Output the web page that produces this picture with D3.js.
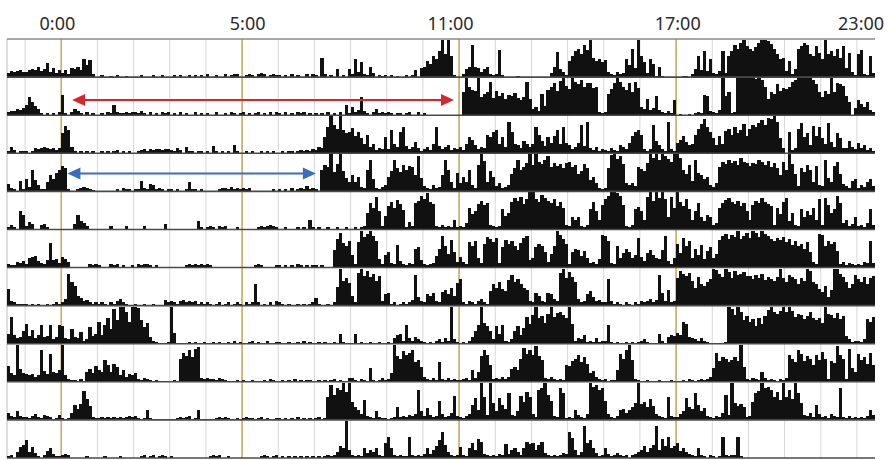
<!DOCTYPE html>
<html>
<head>
<meta charset="utf-8">
<script src="https://cdn.jsdelivr.net/npm/d3@7"></script>
<style>
  html, body { margin: 0; padding: 0; background: #ffffff; }
  svg { display: block; }
</style>
</head>
<body>
<svg id="chart" width="890" height="460"></svg>
<script>
// Actogram: 11 consecutive days, one row per day, 5-minute activity bins.
// Each day is listed hour by hour; every character is one 5-minute bin,
// its activity count written in base 36 (0-9, a-z = 0..35).
// First chunk covers the half hour before the first grid line, last chunk the final half hour.

const tickLabels = ["0:00", "5:00", "11:00", "17:00", "23:00"];
const tickHours = [-0.12, 5.14, 10.75, 17.03, 22.1];
const markerHours = [0, 5, 11, 17];
const gridHours = d3.range(-1, 23);
const chunkStarts = [-1.5].concat(d3.range(-1, 22), [22]);

const day01 = ["465675","5787a68d5947","47398a7hbg30","020010200100","002000200200","020200202020","300200302330","023203430232","202030200303","20i302080208","3h5e32a40212","020100202709","afckhpzmzk20","038aua958a32","3q2000010000","0000004ao852","fkprmuqzifhe","g532534hbr9z","ke4hc1a10000","0011038k7p6h","436p4kpurwzt","rpswzzyvrmhi","6f38rtwumktn","hzmpkrit9n52","mq32k4"];
const day02 = ["344657","ahc962020203","j20364203020","02032a322323","324203020323","020302003020","200300203202","302023020303","203020323020","2020302030a2","835h42036232","320220230030","200000000000","0mzronzhkmvg","nilfjilgehvf","684k9orunwzs","pzvtxruuqr32","3kpuzvroumvq","86f57i53242e","010010232ji4","325zim23zzzz","zzyzxrfmktnq","prvxzzzzzxtm","hnkzmutsic07","eb8c53"];
const day03 = ["263022","202545654535","jqm620202020","020202302020","023424344344","325306220220","207202020820","020200202020","020220232324","365fpzrnzmjk","ogke9h69354f","4m96kp746b52","4639p7468354","639fd8465hfk","m9f6uk985c96","9phc7fagm9pa","846ar7u53624","32532864agkm","h424rc842u42","adgb89hnswpk","e8g9lnhpjmsg","nrptvrxwzue5","0k35ntfj8qgp","e9tb6je55c64","a58352"];
const day04 = ["7320a2","c4kb6229fchk","om2002343210","000000203220","22a327623202","202002922020","000023324232","323000000020","202030232523","20kpnziqzjd9","f9e43kuc3246","ejumipkonfxd","532634fuk93h","8e9k63pzt9je","58346gmuknrz","pzsquxnroqmr","snpgjqmbe832","3myzvxq8685n","ljrzwzuzxvsz","zwkgpauhfce6","48nsqurtpwsr","orqusptnrmfs","kzqg5mipk9o6","5ud9osg753ac","3649c5"];
const day05 = ["2420he","375004520000","00005e863000","000030000300","000300000050","000000000820","232032300020","000002323432","002000202092","020020020020","02023gpkvh3d","mqksoi273prw","tyqo32423292","326kfhornp43","23jdgqurvotz","ztqxurptmqk4","3c9c324jqh9n","twzzywn324jl","h9vzrzuztcvk","zqmtj9hpc8ec","46kpsuqormph","9nrpuqom4kfq","u8g43jchek9t","4ungjwp6935c","3426j4"];
const day06 = ["322546","39ab6437n784","a85000000323","200032302002","032332020000","000002323232","320000000000","000023200002","202020320202","202000hrxnkp","c3oztwzup83c","f43l63243ij7","3234biukdqf5","a53okp94mtro","s4jqmpkhnsu7","9jmkf5dkzvrm","3fihbg94538v","up43k9eif9cs","a6ehc98hu639","meskp9icl8gj","9dquwrvtzrux","szxtzwurpsqt","orlpkmiof53w","vkpmog352432","3254p4"];
const day07 = ["g43222","202020020232","36umj9745323","232032463200","200200200053","432453434232","320230230232","0323k3020304","320200202023","7200203iznql","93vzsxruns4b","c23023235t84","3b9c43dfbh9l","p324324632ek","hmgeotmpkhf4","3c943cb64vzq","wrm634be8453","3p4232032032","434635tc4f34","qxusvnhrkjmp","zyurzwqxtuws","sptquorpnrzq","mtrpkqnzxmkg","dj8fzzurmhkt","pmrkqs"];
const day08 = ["9p856c","j7d58i67i46i","h54e65b34g79","l8ioexmzzulz","zymgk6320002","za0000202002","002020020302","002302003002","200200203020","020200209200","090200200200","205893i53643","202034253z42","02036cizkhc4","h9i324ch8fpj","rzoqkszpturo","zj3548232523","3i2020020202","342000930687","a8lj65435320","00002zxrzumq","lnhojqwzusvz","uzvpsrnquomo","kzsrotnq7423","324nlp"];
const day09 = ["f86zc8","76756ua7q98b","z63220309c8f","b9lg9he6b576","832432020000","020mrounvx43","433243200020","200200020320","020203020220","020202302004","420320d20242","38zomtprujle","53242j324232","2342b49oupg3","43535cebmwqu","pyol4353232g","fkmpjnh8a532","3022bqmuzl32","002000200020","002032023235","drknmjlnkze3","243294232032","4pmjuqkomgpl","sm3kiypm3vd9","qlnhrg"];
const day10 = ["743843","324632543025","2027eafrkd32","232323232343","420292000000","002323402900","000232320020","232202302002","202020302020","2302mxouszqz","hc96j4328322","023c343546s8","4b534i6347n4","3246el9zm5zg","8leap548nhqm","63suzoi43up2","3295326zvxsu","i63249a79cgz","fhckd6432m43","368lcape8b43","2437o5zgdfc3","4hprzuvsmqjz","mskzpg5473e6","342643u32423","232495"];
const day11 = ["2306ac","h6a520379422","343000002000","002000020000","002302302320","200000000000","023230020000","000000232023","020202020202","02023236b9z8","32329586932e","k932322k3232","4948bhpc6323","a329e8if4323","243d489639fd","e8cf53232354","pj836ueh9523","942353230346","8b69cu8ibk9b","e79643293203","202k3233k200","000000000000","000000000000","000000000000","000000"];

const days = [day01, day02, day03, day04, day05, day06, day07, day08, day09, day10, day11];

// Onset arrows (day row, from hour, to hour)
const onsetArrows = [
  { day: 1, from: 0.3, to: 10.86, color: "#d8262c", level: 0.6 },
  { day: 3, from: 0.17, to: 7.04, color: "#3a6cc4", level: 0.53 }
];

const binHours = 1 / 12;

// decode each day into {hour, value} bins
const bins = days.map((chunks, d) =>
  chunks.flatMap((chunk, k) =>
    Array.from(chunk).map((ch, j) => ({
      day: d,
      hour: chunkStarts[k] + j * binHours,
      value: parseInt(ch, 36)
    }))
  ).filter(b => b.value > 0)
);

const svg = d3.select("#chart");

const x = d3.scaleLinear().domain([-1.5, 22.5]).range([7, 875]);
const row = d3.scaleBand().domain(d3.range(days.length)).range([39, 458]);
const rowH = row.bandwidth();
const y = d3.scaleLinear().domain([0, 36]).range([0, rowH]);
const plotTop = row.range()[0], plotBottom = row.range()[1];

// hourly grid
svg.append("g")
  .selectAll("line")
  .data(gridHours)
  .join("line")
  .attr("x1", d => x(d)).attr("x2", d => x(d))
  .attr("y1", plotTop).attr("y2", plotBottom)
  .attr("stroke", "#d6d6d6")
  .attr("stroke-width", 1);

// left frame edge
svg.append("line")
  .attr("x1", x(-1.5)).attr("x2", x(-1.5))
  .attr("y1", plotTop).attr("y2", plotBottom)
  .attr("stroke", "#bdbdbd").attr("stroke-width", 1);

// reference hour markers
svg.append("g")
  .selectAll("line")
  .data(markerHours)
  .join("line")
  .attr("x1", d => x(d)).attr("x2", d => x(d))
  .attr("y1", plotTop).attr("y2", plotBottom)
  .attr("stroke", "#cdae68")
  .attr("stroke-width", 1.6);

// activity bars
svg.append("g")
  .attr("shape-rendering", "crispEdges")
  .selectAll("g")
  .data(bins)
  .join("g")
  .selectAll("rect")
  .data(d => d)
  .join("rect")
  .attr("x", d => x(d.hour))
  .attr("width", d => x(d.hour + binHours) - x(d.hour) + 0.2)
  .attr("y", d => row(d.day) + rowH - y(d.value))
  .attr("height", d => y(d.value))
  .attr("fill", "#111111");

// top border and day baselines
svg.append("line")
  .attr("x1", x(-1.5)).attr("x2", x(22.5))
  .attr("y1", plotTop).attr("y2", plotTop)
  .attr("stroke", "#8a8a8a").attr("stroke-width", 1.4);

svg.append("g")
  .selectAll("line")
  .data(d3.range(days.length))
  .join("line")
  .attr("x1", x(-1.5)).attr("x2", x(22.5))
  .attr("y1", d => row(d) + rowH).attr("y2", d => row(d) + rowH)
  .attr("stroke", "#4a4a4a")
  .attr("stroke-width", 1.6);

// hour labels along the top
const axis = d3.axisTop(x)
  .tickValues(tickHours)
  .tickFormat((d, i) => tickLabels[i])
  .tickSize(0)
  .tickPadding(9);

const gAxis = svg.append("g")
  .attr("transform", `translate(0,${plotTop})`)
  .call(axis);
gAxis.select(".domain").remove();
gAxis.selectAll("text")
  .attr("font-family", "'Noto Sans', 'Open Sans', sans-serif")
  .attr("font-size", 18)
  .attr("fill", "#2b2b2b");

// double-headed onset arrows
const head = 13, halfW = 6;
const gArr = svg.append("g");
onsetArrows.forEach(a => {
  const yy = row(a.day) + rowH * a.level;
  const x0 = x(a.from), x1 = x(a.to);
  gArr.append("line")
    .attr("x1", x0 + head - 1).attr("x2", x1 - head + 1)
    .attr("y1", yy).attr("y2", yy)
    .attr("stroke", a.color).attr("stroke-width", 2);
  const p = d3.path();
  p.moveTo(x0, yy); p.lineTo(x0 + head, yy - halfW); p.lineTo(x0 + head, yy + halfW); p.closePath();
  p.moveTo(x1, yy); p.lineTo(x1 - head, yy - halfW); p.lineTo(x1 - head, yy + halfW); p.closePath();
  gArr.append("path").attr("d", p.toString()).attr("fill", a.color);
});
</script>
</body>
</html>
